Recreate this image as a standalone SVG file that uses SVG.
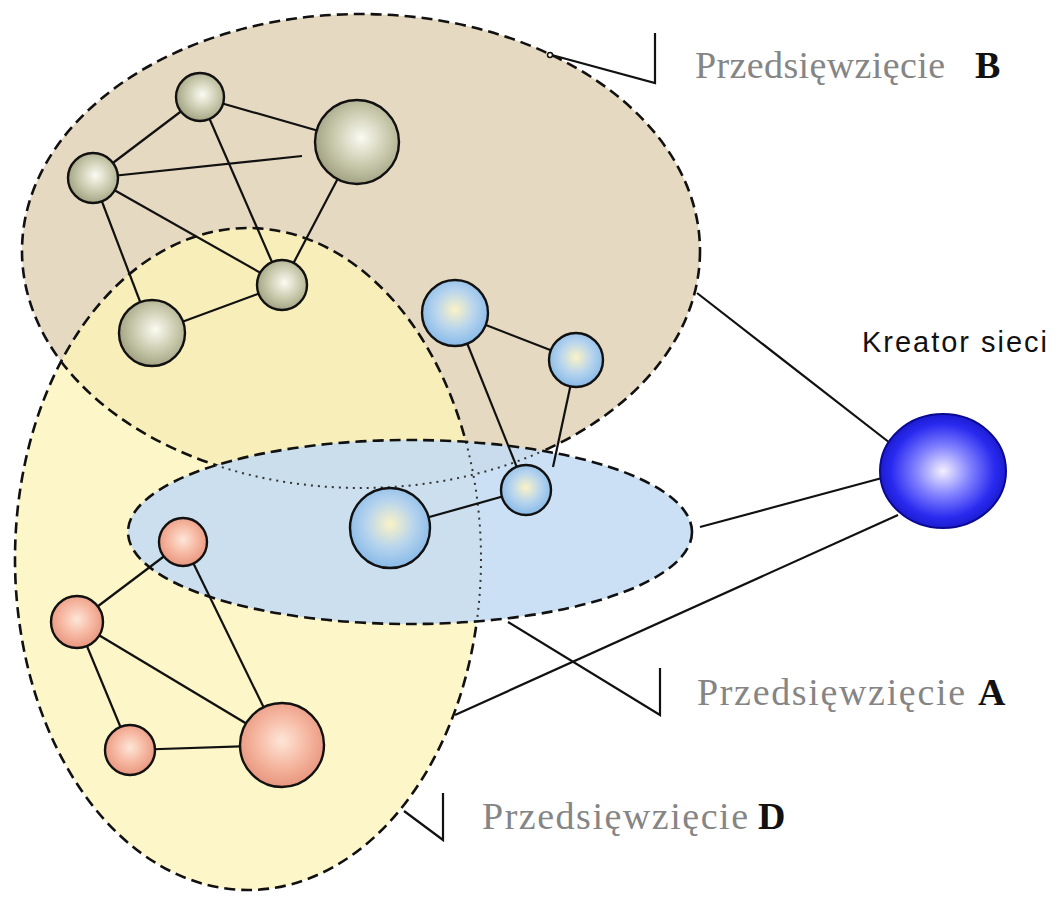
<svg xmlns="http://www.w3.org/2000/svg" width="1058" height="900" viewBox="0 0 1058 900">
<style>
.edge{stroke:#111;stroke-width:2.2;fill:none}
.dash{fill:none;stroke:#111;stroke-width:2.6;stroke-dasharray:11 6}
.dot{fill:none;stroke:#333;stroke-width:2;stroke-dasharray:2 5}
.node{stroke:#111;stroke-width:2.4}
.lbl{font-family:"Liberation Serif",serif;font-size:38px;fill:#858585}
.lblb{font-family:"Liberation Serif",serif;font-size:38px;font-weight:bold;fill:#111}
</style>
<defs>
<radialGradient id="gOlive" cx="0.55" cy="0.45" r="0.6"><stop offset="0" stop-color="#fbfbf2"/><stop offset="0.55" stop-color="#c9c9ad"/><stop offset="1" stop-color="#9c9c7c"/></radialGradient>
<radialGradient id="gBlue" cx="0.5" cy="0.45" r="0.6"><stop offset="0" stop-color="#fbf3c6"/><stop offset="0.5" stop-color="#b6d4ee"/><stop offset="1" stop-color="#7eb4e6"/></radialGradient>
<radialGradient id="gRed" cx="0.5" cy="0.45" r="0.6"><stop offset="0" stop-color="#fde6d8"/><stop offset="0.5" stop-color="#f6b8a2"/><stop offset="1" stop-color="#e58e76"/></radialGradient>
<radialGradient id="gKre" cx="0.5" cy="0.5" r="0.55"><stop offset="0" stop-color="#f4f0ff"/><stop offset="0.4" stop-color="#8080ff"/><stop offset="0.75" stop-color="#2a2af0"/><stop offset="1" stop-color="#1414c0"/></radialGradient>
<clipPath id="inBlue"><ellipse cx="410" cy="532" rx="282" ry="92"/></clipPath>
<mask id="outBlue"><rect width="1058" height="900" fill="#fff"/><ellipse cx="410" cy="532" rx="282" ry="92" fill="#000"/></mask>
</defs>
<rect width="1058" height="900" fill="#fff"/>
<g id="areas">
<ellipse id="areaB" cx="361" cy="251" rx="339" ry="237" fill="#e6d9c1"/>
<ellipse id="areaD" cx="248" cy="559" rx="233" ry="331" fill="#fcf3b8" fill-opacity="0.78"/>
<ellipse id="areaA" cx="410" cy="532" rx="282" ry="92" fill="#c4dcf2" fill-opacity="0.88"/>
<g mask="url(#outBlue)">
<ellipse class="dash" cx="361" cy="251" rx="339" ry="237"/>
<ellipse class="dash" cx="248" cy="559" rx="233" ry="331"/>
</g>
<g clip-path="url(#inBlue)">
<ellipse class="dot" cx="361" cy="251" rx="339" ry="237"/>
<ellipse class="dot" cx="248" cy="559" rx="233" ry="331"/>
</g>
<ellipse class="dash" cx="410" cy="532" rx="282" ry="92"/>
</g>
<g id="connectors">
<line class="edge" x1="200" y1="97" x2="93" y2="178"/>
<line class="edge" x1="200" y1="97" x2="357" y2="142"/>
<line class="edge" x1="200" y1="97" x2="282" y2="285"/>
<line class="edge" x1="93" y1="178" x2="302" y2="156"/>
<line class="edge" x1="93" y1="178" x2="282" y2="285"/>
<line class="edge" x1="93" y1="178" x2="152" y2="333"/>
<line class="edge" x1="357" y1="142" x2="282" y2="285"/>
<line class="edge" x1="152" y1="333" x2="282" y2="285"/>
<line class="edge" x1="455" y1="313" x2="576" y2="360"/>
<line class="edge" x1="455" y1="313" x2="526" y2="490"/>
<line class="edge" x1="576" y1="360" x2="553" y2="467"/>
<line class="edge" x1="390" y1="528" x2="526" y2="490"/>
<line class="edge" x1="183" y1="542" x2="77" y2="622"/>
<line class="edge" x1="183" y1="542" x2="282" y2="745"/>
<line class="edge" x1="77" y1="622" x2="130" y2="750"/>
<line class="edge" x1="77" y1="622" x2="282" y2="745"/>
<line class="edge" x1="130" y1="750" x2="282" y2="745"/>
<line class="edge" x1="697" y1="293" x2="890" y2="443"/>
<line class="edge" x1="700" y1="527" x2="882" y2="478"/>
<line class="edge" x1="455" y1="715" x2="898" y2="515"/>
<polyline class="edge" points="548,54 655,83 655,33"/>
<circle cx="550" cy="55" r="2.5" fill="#fff" stroke="#111" stroke-width="1.5"/>
<polyline class="edge" points="508,622 660,715 660,668"/>
<polyline class="edge" points="404,811 443,840 443,793"/>
</g>
<g id="nodeB1"><circle class="node" cx="200" cy="97" r="24" fill="url(#gOlive)"/></g>
<g id="nodeB2"><circle class="node" cx="357" cy="142" r="42" fill="url(#gOlive)"/></g>
<g id="nodeB3"><circle class="node" cx="93" cy="178" r="25" fill="url(#gOlive)"/></g>
<g id="nodeB4"><circle class="node" cx="282" cy="285" r="25" fill="url(#gOlive)"/></g>
<g id="nodeB5"><circle class="node" cx="152" cy="333" r="33" fill="url(#gOlive)"/></g>
<g id="nodeA1"><circle class="node" cx="455" cy="313" r="33" fill="url(#gBlue)"/></g>
<g id="nodeA2"><circle class="node" cx="576" cy="360" r="27" fill="url(#gBlue)"/></g>
<g id="nodeA3"><circle class="node" cx="526" cy="490" r="25" fill="url(#gBlue)"/></g>
<g id="nodeA4"><circle class="node" cx="390" cy="528" r="40" fill="url(#gBlue)"/></g>
<g id="nodeD1"><circle class="node" cx="183" cy="542" r="24" fill="url(#gRed)"/></g>
<g id="nodeD2"><circle class="node" cx="77" cy="622" r="26" fill="url(#gRed)"/></g>
<g id="nodeD3"><circle class="node" cx="130" cy="750" r="25" fill="url(#gRed)"/></g>
<g id="nodeD4"><circle class="node" cx="282" cy="745" r="42" fill="url(#gRed)"/></g>
<g id="kreator">
<ellipse cx="943" cy="471" rx="63" ry="57" fill="url(#gKre)" stroke="#0a0a90" stroke-width="2"/>
<text x="862" y="352" font-family="Liberation Sans, sans-serif" font-size="29" fill="#111" textLength="185">Kreator sieci</text>
</g>
<g id="labelB"><text class="lbl" x="695" y="78" textLength="250">Przedsięwzięcie</text><text class="lblb" x="975" y="78">B</text></g>
<g id="labelA"><text class="lbl" x="697" y="705" textLength="268">Przedsięwzięcie</text><text class="lblb" x="978" y="705">A</text></g>
<g id="labelD"><text class="lbl" x="482" y="829" textLength="266">Przedsięwzięcie</text><text class="lblb" x="758" y="829">D</text></g>
</svg>
